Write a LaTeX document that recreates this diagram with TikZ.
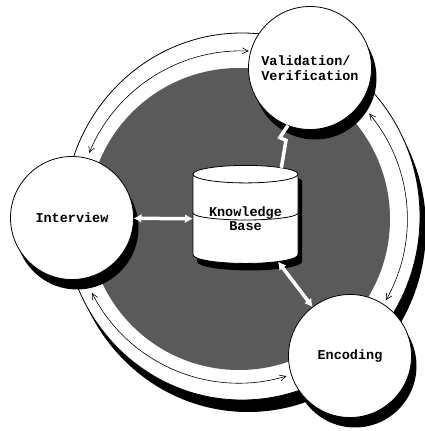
\documentclass[tikz,border=0pt]{standalone}
\usepackage{fontspec}
\newfontfamily\boxfont{Liberation Mono}
\usetikzlibrary{arrows.meta, shapes.geometric, shadows}
\definecolor{dither}{RGB}{90, 90, 90}

\begin{document}
\begin{tikzpicture}[x=1pt, y=1pt]%
        \tikzstyle{phase} = [circle, draw, fill=white, minimum size=123pt, inner sep=0pt, outer sep=0pt, line width=0.8pt, font=\boxfont\bfseries\fontsize{13.5}{15}\selectfont, align=center, drop shadow={shadow xshift=5pt, shadow yshift=-10pt, fill=black, opacity=1}]
        \tikzstyle{ringarrow} = [{Straight Barb[length=6pt,width=6pt]}-{Straight Barb[length=6pt,width=6pt]}, line width=0.6pt]
        \tikzstyle{kblink} = [{Latex[length=8pt,width=9pt]}-{Latex[length=8pt,width=9pt]}, white, line width=3.5pt]

        \useasboundingbox (0,0) rectangle (425,431);

        % outer band and shaded disc
        \fill[black] (248,202.5) ellipse [x radius=178, y radius=183.5];
        \draw[fill=white, line width=0.8pt] (242,214.5) ellipse [x radius=178, y radius=183.5];
        \fill[dither] (239,212) circle [radius=151];

        \node[circle, minimum size=330pt, inner sep=0pt, outer sep=0pt] (ring) at (241,213.5) {};
        \foreach \a/\b in {157.6/87.5, 39.7/-29.5, 286.7/206.9}{
          \draw[ringarrow] (ring.\a) arc [start angle=\a, end angle=\b, radius=165];
        }

        \node[phase] (interview) at (72,213) {Interview};
        \node[phase, align=left] (valid) at (310,363) {Validation/\\Verification};
        \node[phase] (encoding) at (350,75) {Encoding};

        \node[cylinder, shape border rotate=90, aspect=0.24, draw, fill=white, line width=0.8pt, minimum width=105pt, minimum height=98pt, inner sep=0pt, outer sep=0pt, align=center, font=\boxfont\bfseries\fontsize{13.5}{14}\selectfont, drop shadow={shadow xshift=4pt, shadow yshift=-7pt, fill=black, opacity=1}] (kb) at (245.5,212) {Knowledge\\Base};
        \draw[line width=0.8pt] ([yshift=6pt]kb.west) arc [start angle=180, end angle=360, x radius=52.5, y radius=7];

        \draw[kblink] (interview) -- (kb);
        \draw[kblink] (kb) -- (encoding);
        \draw[white, line width=3.5pt] (valid.249) -- ++(-8,-12) -- ++(6,-3) -- (kb.55);
\end{tikzpicture}
\end{document}
